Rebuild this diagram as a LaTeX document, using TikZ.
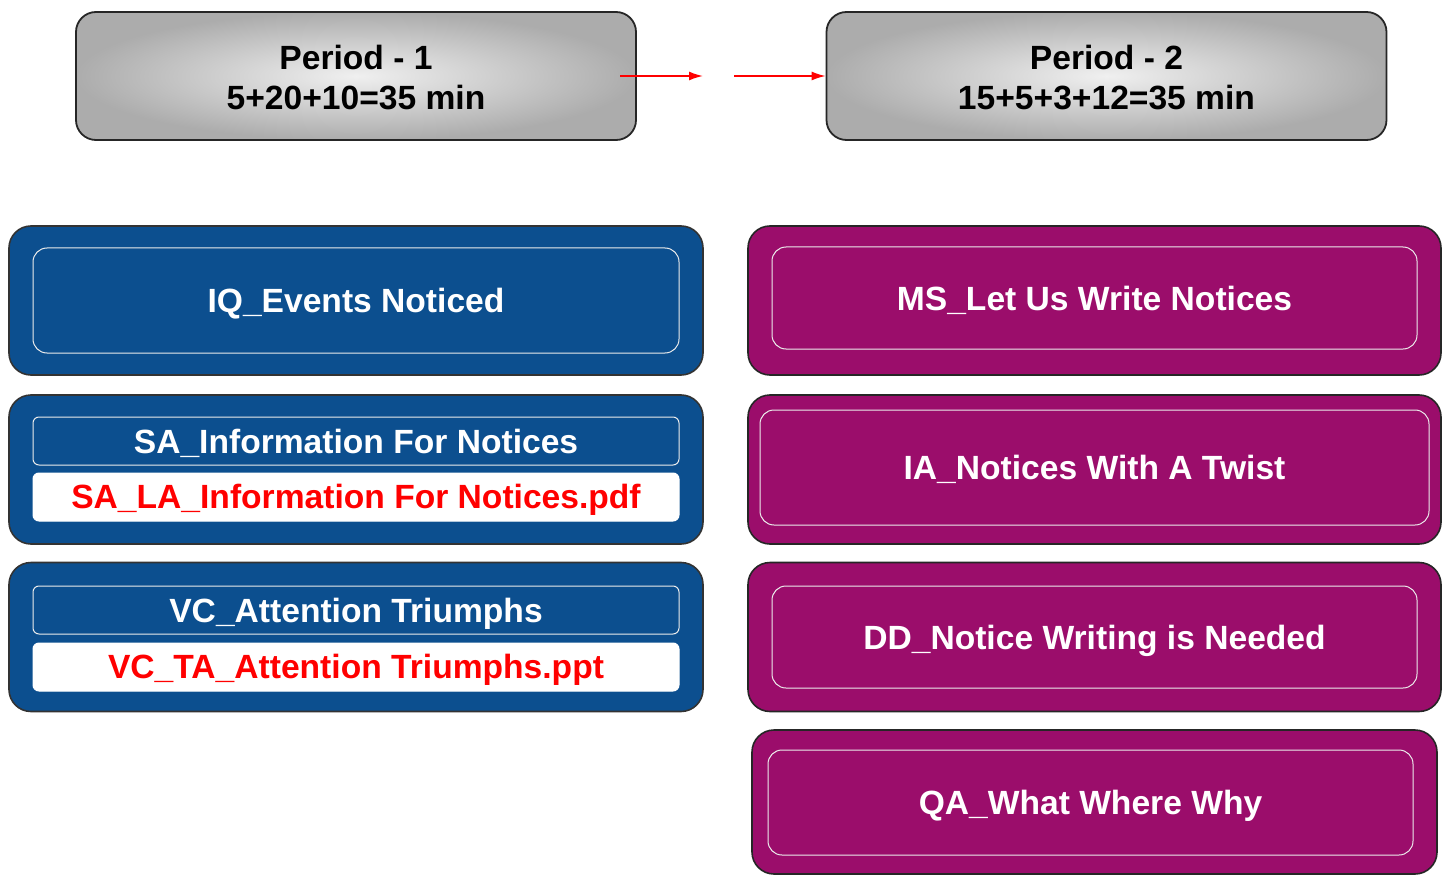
\documentclass[tikz,border=0pt]{standalone}
\usepackage{fontspec}
\setmainfont{Liberation Sans}
\usetikzlibrary{arrows.meta}
\definecolor{bluebox}{HTML}{0C4F8F}
\definecolor{purplebox}{HTML}{9B0D6B}
\definecolor{redtext}{HTML}{FF0000}
\tikzset{
  boxfont/.style={font=\fontsize{16.8}{20}\selectfont\bfseries},
  period/.style={draw=black!85, line width=0.9pt, rounded corners=10pt, shading=radial,
    inner color=gray!12, outer color=gray!65, minimum width=280pt, minimum height=64pt,
    inner sep=0pt},
  periodtext/.style={inner sep=0pt, align=center, boxfont},
  outerblue/.style={draw=black!80, line width=0.8pt, rounded corners=11pt, fill=bluebox,
    minimum width=347pt, minimum height=74.5pt, inner sep=0pt},
  outerpurple/.style={draw=black!85, line width=0.8pt, rounded corners=11pt, fill=purplebox,
    minimum width=346.5pt, minimum height=74.5pt, inner sep=0pt},
  innerline/.style={draw=white!85!gray, line width=0.5pt, rounded corners=7pt, inner sep=0pt,
    text=white, boxfont, text height=12pt, text depth=0pt},
  titlebar/.style={draw=white!85!gray, line width=0.5pt, rounded corners=3pt, inner sep=0pt,
    fill=bluebox, text=white, minimum width=323pt, minimum height=24pt,
    boxfont, text height=12pt, text depth=0pt},
  filebar/.style={draw=white, line width=0.5pt, rounded corners=3pt, inner sep=0pt,
    fill=white, text=redtext, minimum width=323pt, minimum height=24pt,
    boxfont, text height=11.5pt, text depth=0pt},
  flow/.style={draw=redtext, line width=0.8pt, -{Latex[length=7pt,width=4.5pt]}}
}
\begin{document}
\begin{tikzpicture}[x=0.5pt,y=-0.5pt]
\useasboundingbox (0,0) rectangle (1450,877);
% period boxes
\node[period] (p1) at (356,76) {};
\node[periodtext] (p1t) at (356,78) {Period - 1\\5+20+10=35 min};
\node[period] (p2) at (1106.5,76) {};
\node[periodtext] (p2t) at (1106.5,78) {Period - 2\\15+5+3+12=35 min};
\coordinate (a1s) at (620,76);
\coordinate (a1e) at (703,76);
\coordinate (a2s) at (734,76);
\draw[flow] (a1s) -- (a1e);
\draw[flow] (a2s) -- (p2.west);
% left column
\node[outerblue] (b1) at (356,300.5) {};
\node[innerline, minimum width=323pt, minimum height=52.5pt] (b1i) at (356,300.5) {IQ\_Events Noticed};
\node[outerblue] (b2) at (356,469.5) {};
\node[titlebar] (b2t) at (356,441) {SA\_Information For Notices};
\node[filebar] (b2f) at (356,497) {SA\_LA\_Information For Notices.pdf};
\node[outerblue] (b3) at (356,637) {};
\node[titlebar] (b3t) at (356,610) {VC\_Attention Triumphs};
\node[filebar] (b3f) at (356,667) {VC\_TA\_Attention Triumphs.ppt};
% right column
\node[outerpurple] (r1) at (1094.5,300.5) {};
\node[innerline, minimum width=322.5pt, minimum height=51pt] (r1i) at (1094.5,298) {MS\_Let Us Write Notices};
\node[outerpurple] (r2) at (1094.5,469.5) {};
\node[innerline, minimum width=334.5pt, minimum height=57.5pt] (r2i) at (1094.5,467.5) {IA\_Notices With A Twist};
\node[outerpurple] (r3) at (1094.5,637) {};
\node[innerline, minimum width=322.5pt, minimum height=51pt] (r3i) at (1094.5,637) {DD\_Notice Writing is Needed};
\node[outerpurple, minimum width=342.5pt, minimum height=72pt] (r4) at (1094.5,802) {};
\node[innerline, minimum width=322.5pt, minimum height=52.5pt] (r4i) at (1090.5,802.5) {QA\_What Where Why};
\end{tikzpicture}
\end{document}
